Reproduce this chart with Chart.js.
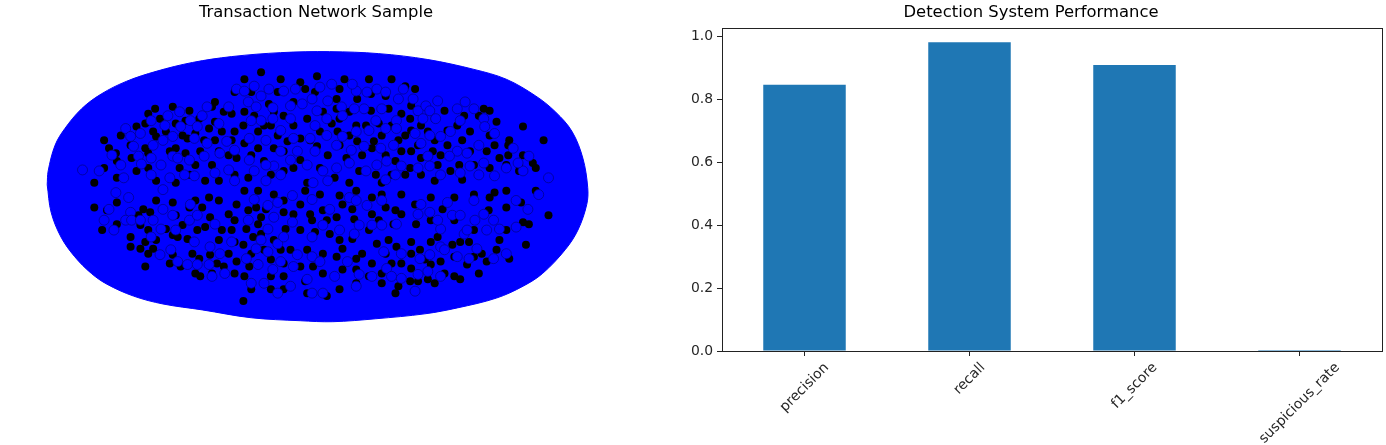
<!DOCTYPE html>
<html>
<head>
<meta charset="utf-8">
<title>Transaction network and detection performance</title>
<script src="https://cdn.jsdelivr.net/npm/chart.js@4"></script>
<style>
	html, body { margin: 0; padding: 0; background: #fff; overflow: hidden; }
	#netBox { position: absolute; left: 0; top: 0; width: 632px; height: 445px; }
	#barBox { position: absolute; left: 680px; top: 0; width: 744px; height: 445px; }
</style>
</head>
<body>
<div id="netBox"><canvas id="net"></canvas></div>
<div id="barBox"><canvas id="bars"></canvas></div>
<script>
// bar chart values
const metricNames = ['precision', 'recall', 'f1_score', 'suspicious_rate'];
const metricValues = [0.845, 0.98, 0.908, 0.003];
const yTicks = [0, 0.2, 0.4, 0.6, 0.8, 1.0];

// network layout: outer edge of the node mass
const networkEdge = [
	[42,187],[43,173],[50,147],[60,130],[77,110],[97,95],[123,82],[153,72],[190,63],[230,57],[280,53],[330,52],
	[380,54],[430,60],[477,70],[510,80],[540,97],[560,113],[577,133],[588,160],[593,190],[592,207],[583,233],
	[570,253],[547,277],[527,290],[500,302],[460,312],[427,318],[377,323],[333,326],[300,325],[250,322],[200,314],
	[160,308],[130,300],[103,288],[87,277],[70,260],[56,240],[46,215],[42,187]
];

// places where the black edges show through between the nodes
const gapsUpperLeft = [
	[213,103],[210,108],[222,113],[230,115],[233,93],[170,108],[152,110],[145,115],[157,120],[187,112],[183,122],
	[173,125],[142,125],[133,128],[150,133],[163,133],[153,138],[180,137],[197,120],[213,123],[207,130],[193,135],
	[185,140],[202,142],[220,133],[213,142],[233,133],[230,142],[117,137],[127,147],[142,150],[105,150],[100,142],
	[113,163],[112,155],[128,160],[145,155],[167,153],[173,150],[183,155],[198,153],[193,167],[217,153],[227,157],
	[210,167],[235,160],[145,170],[133,173],[113,180],[177,170],[173,185],[153,183],[187,177],[203,183],[217,183],
	[233,177],[100,170],[90,185]
];
const gapsUpperMiddle = [
	[243,80],[260,73],[280,80],[300,83],[317,77],[340,90],[345,80],[370,80],[393,80],[387,97],[407,87],[372,95],
	[358,100],[250,93],[268,105],[277,93],[293,103],[305,90],[323,113],[315,93],[337,100],[337,110],[350,113],
	[372,112],[403,115],[390,110],[243,113],[253,117],[242,127],[273,113],[270,127],[283,117],[277,137],[263,127],
	[257,133],[293,127],[307,120],[320,133],[332,125],[340,120],[338,133],[357,127],[350,137],[367,127],[380,125],
	[393,127],[375,143],[383,137],[400,142],[407,137],[243,145],[257,150],[273,150],[250,157],[263,163],[287,143],
	[283,153],[300,140],[310,142],[317,148],[328,157],[340,147],[347,160],[358,143],[363,157],[373,150],[387,157],
	[397,163],[403,153],[283,173],[293,170],[270,177],[247,180],[300,162],[320,170],[335,180],[360,173],[377,177],
	[393,177],[407,177],[307,185],[350,185],[383,185]
];
const gapsUpperRight = [
	[413,107],[420,113],[412,120],[417,90],[487,110],[493,112],[482,117],[500,123],[467,117],[447,112],[437,120],
	[423,127],[413,132],[430,133],[420,147],[437,142],[450,132],[450,147],[443,157],[435,153],[440,167],[423,160],
	[413,153],[460,127],[473,133],[465,142],[473,153],[462,167],[453,173],[477,167],[493,137],[498,147],[490,153],
	[512,147],[512,157],[510,167],[503,160],[527,128],[548,142],[527,157],[537,165],[523,173],[540,170],[493,170],
	[423,177],[437,183],[465,182],[412,170],[523,167],[513,142]
];
const gapsLowerLeft = [
	[113,205],[140,212],[135,218],[147,215],[153,203],[170,205],[173,218],[180,228],[187,210],[193,203],[200,210],
	[208,220],[207,200],[217,203],[227,217],[235,207],[233,223],[103,213],[90,210],[98,233],[137,228],[145,233],
	[142,245],[163,232],[170,238],[153,243],[175,240],[137,252],[145,257],[185,242],[195,233],[203,230],[220,233],
	[217,243],[233,245],[230,233],[190,257],[170,258],[167,267],[150,252],[178,270],[142,270],[197,262],[208,258],
	[215,267],[227,257],[235,265],[222,270],[198,280],[193,277],[210,277],[233,277],[127,250],[127,240],[113,227]
];
const gapsLowerMiddle = [
	[243,193],[257,193],[273,197],[283,203],[300,207],[305,193],[320,197],[340,198],[343,207],[337,220],[357,193],
	[373,200],[383,197],[403,197],[387,210],[397,213],[373,217],[255,210],[247,213],[260,220],[265,212],[283,215],
	[293,217],[310,217],[312,223],[323,213],[327,223],[353,212],[355,222],[380,223],[395,227],[403,217],[245,232],
	[257,227],[242,248],[252,240],[260,237],[273,243],[280,253],[263,253],[250,257],[285,232],[300,233],[315,235],
	[340,243],[330,237],[353,242],[343,252],[337,260],[370,233],[378,247],[390,243],[398,250],[403,267],[387,257],
	[363,257],[357,262],[373,267],[290,253],[307,253],[323,257],[313,270],[300,270],[283,267],[270,263],[248,270],
	[257,267],[243,280],[270,280],[283,280],[305,285],[323,277],[343,273],[357,273],[370,280],[383,277],[393,267],
	[400,290],[383,287],[357,287],[340,293],[307,297],[283,293],[270,293],[250,293],[397,297],[327,300],[242,305]
];
const gapsLowerRight = [
	[498,195],[510,193],[493,200],[540,193],[525,205],[510,210],[492,213],[445,212],[417,207],[433,200],[457,200],
	[477,197],[418,227],[433,223],[457,223],[477,233],[490,233],[510,233],[527,225],[533,227],[553,218],[503,243],
	[463,245],[455,248],[472,245],[413,245],[422,253],[433,245],[440,240],[413,257],[433,268],[443,265],[457,260],
	[477,260],[485,257],[500,253],[513,262],[530,248],[413,272],[420,285],[430,283],[447,277],[457,280],[463,283],
	[482,277],[412,285],[490,265],[470,268],[427,263],[437,287]
];

// single nodes that can be picked out on top of the black
const nodesUpperLeft = [
	[165,117],[177,113],[188,122],[148,122],[162,127],[122,130],[137,135],[127,138],[160,142],[178,128],[195,128],
	[200,117],[205,108],[217,125],[227,108],[235,90],[225,143],[205,145],[192,140],[170,138],[150,147],[135,158],
	[148,160],[170,158],[175,160],[187,162],[202,158],[218,155],[233,152],[117,167],[138,166],[158,167],[213,175],
	[192,178],[167,180],[148,177],[120,180],[95,173],[78,172],[108,157],[182,177],[227,172],[233,183],[130,148]
];
const nodesUpperMiddle = [
	[253,87],[243,92],[260,97],[268,90],[247,103],[255,108],[272,109],[283,92],[295,90],[290,107],[302,105],[312,100],
	[317,112],[328,102],[320,88],[332,85],[342,108],[357,92],[368,93],[353,85],[378,90],[387,93],[405,90],[400,100],
	[383,110],[365,110],[355,110],[343,117],[260,122],[250,122],[272,120],[280,132],[290,120],[315,127],[327,120],
	[357,133],[370,132],[398,122],[398,130],[387,130],[377,122],[248,140],[265,142],[293,140],[310,140],[327,137],
	[343,138],[365,148],[352,152],[382,150],[395,147],[280,153],[297,153],[315,153],[337,147],[273,168],[253,173],
	[265,167],[290,162],[307,167],[323,173],[337,170],[350,165],[378,167],[388,163],[403,168],[397,177],[280,177],
	[313,185],[328,183],[265,183],[248,162],[367,173],[387,182]
];
const nodesUpperRight = [
	[420,112],[415,100],[428,107],[440,102],[432,112],[468,103],[460,110],[487,120],[477,110],[488,128],[463,122],
	[453,133],[438,120],[425,120],[417,135],[432,137],[423,145],[443,138],[482,147],[460,153],[470,155],[452,158],
	[498,135],[517,150],[533,158],[487,165],[473,168],[430,158],[432,168],[443,177],[420,170],[463,175],[498,178],
	[510,170],[527,173],[553,180],[482,177],[522,165]
];
const nodesLowerLeft = [
	[125,200],[112,195],[105,212],[127,215],[160,212],[150,223],[158,232],[170,218],[187,223],[195,218],[213,227],
	[160,192],[188,207],[122,223],[110,233],[128,223],[168,253],[157,258],[175,265],[185,268],[195,268],[218,257],
	[208,250],[230,245],[192,245],[207,268],[173,233],[223,277],[210,280],[148,240],[137,223],[100,223]
];
const nodesLowerMiddle = [
	[253,202],[267,208],[277,205],[292,198],[312,202],[330,212],[350,200],[357,203],[368,208],[383,203],[247,223],
	[273,220],[267,232],[260,243],[255,252],[267,255],[245,262],[277,247],[292,225],[283,240],[312,240],[323,228],
	[340,233],[355,237],[360,228],[373,228],[383,228],[398,227],[385,255],[403,257],[312,260],[297,258],[320,265],
	[280,265],[272,273],[257,268],[263,287],[293,270],[307,283],[335,280],[348,265],[360,278],[388,272],[393,280],
	[403,282],[373,280],[250,287],[290,290],[323,297],[312,297],[277,297],[357,290]
];
const nodesLowerRight = [
	[443,232],[440,223],[467,237],[470,233],[480,252],[478,223],[497,223],[490,233],[423,207],[420,217],[432,215],
	[455,218],[463,218],[487,217],[503,232],[520,230],[532,212],[443,250],[422,262],[432,258],[447,253],[460,260],
	[472,262],[497,262],[510,257],[430,275],[420,278],[443,280],[417,295],[543,197],[520,203],[477,203],[450,205]
];

const toXY = p => ({x: p[0], y: p[1]});
const allGaps = [].concat(gapsUpperLeft, gapsUpperMiddle, gapsUpperRight, gapsLowerLeft, gapsLowerMiddle, gapsLowerRight);
const allNodes = [].concat(nodesUpperLeft, nodesUpperMiddle, nodesUpperRight, nodesLowerLeft, nodesLowerMiddle, nodesLowerRight);
const titleFont = {family: '"DejaVu Sans"', size: 16.4, weight: 'normal', lineHeight: 1};

new Chart(document.getElementById('net'), {
	type: 'scatter',
	data: {
		datasets: [
			{
				label: 'mass',
				data: networkEdge.map(toXY),
				showLine: true,
				fill: 'shape',
				tension: 0.35,
				backgroundColor: '#0000ff',
				borderColor: '#0000ff',
				borderWidth: 1,
				pointRadius: 0,
				order: 3
			},
			{
				label: 'edges',
				data: allGaps.map(toXY),
				backgroundColor: '#000000',
				borderWidth: 0,
				pointRadius: 4,
				order: 2
			},
			{
				label: 'nodes',
				data: allNodes.map(toXY),
				backgroundColor: '#0000ff',
				borderColor: 'rgba(0,0,130,0.7)',
				borderWidth: 1,
				pointRadius: 5,
				order: 1
			}
		]
	},
	options: {
		responsive: true,
		maintainAspectRatio: false,
		animation: false,
		layout: {padding: 0},
		plugins: {
			legend: {display: false},
			tooltip: {enabled: false},
			title: {
				display: true,
				text: 'Transaction Network Sample',
				color: '#000',
				font: titleFont,
				padding: {top: 5, bottom: 6.6}
			}
		},
		scales: {
			x: {type: 'linear', display: false, min: 0, max: 632},
			y: {type: 'linear', display: false, min: 28, max: 445, reverse: true}
		}
	}
});

// matplotlib centres rotated labels under the tick, Chart.js hangs them off their end
const centeredLabels = {
	id: 'centeredLabels',
	afterDraw(chart)
	{
		const ctx = chart.ctx;
		const scale = chart.scales.x;
		const area = chart.chartArea;
		ctx.save();
		ctx.strokeStyle = '#222';
		ctx.lineWidth = 1;
		ctx.strokeRect(area.left + 0.5, area.top + 0.5, area.right - area.left, area.bottom - area.top);
		ctx.font = '13.9px "DejaVu Sans"';
		ctx.fillStyle = '#262626';
		ctx.textAlign = 'center';
		ctx.textBaseline = 'middle';
		metricNames.forEach((name, i) =>
		{
			const half = (ctx.measureText(name).width + 14) * Math.SQRT1_2 / 2;
			ctx.save();
			ctx.translate(scale.getPixelForTick(i), area.bottom + 9.5 + half);
			ctx.rotate(-Math.PI / 4);
			ctx.fillText(name, 0, 0);
			ctx.restore();
		});
		ctx.restore();
	}
};

new Chart(document.getElementById('bars'), {
	type: 'bar',
	data: {
		labels: metricNames,
		datasets: [{
			data: metricValues,
			backgroundColor: '#1f77b4',
			barPercentage: 0.5,
			categoryPercentage: 1
		}]
	},
	plugins: [centeredLabels],
	options: {
		responsive: true,
		maintainAspectRatio: false,
		animation: false,
		layout: {padding: {right: 42}},
		plugins: {
			legend: {display: false},
			tooltip: {enabled: false},
			title: {
				display: true,
				text: 'Detection System Performance',
				color: '#000',
				font: titleFont,
				padding: {top: 5, bottom: 6.6}
			}
		},
		scales: {
			x: {
				afterFit: s => { s.height = 94; },
				border: {color: '#222'},
				grid: {offset: false, drawOnChartArea: false, tickLength: 5, tickColor: '#222'},
				ticks: {display: false}
			},
			y: {
				min: 0,
				max: 1.0254,
				afterFit: s => { s.width = 42; },
				afterBuildTicks: s => { s.ticks = yTicks.map(v => ({value: v})); },
				border: {color: '#222'},
				grid: {drawOnChartArea: false, tickLength: 5, tickColor: '#222'},
				ticks: {
					color: '#262626',
					padding: 4,
					font: {family: '"DejaVu Sans"', size: 13.9},
					callback: v => v.toFixed(1)
				}
			}
		}
	}
});
</script>
</body>
</html>
